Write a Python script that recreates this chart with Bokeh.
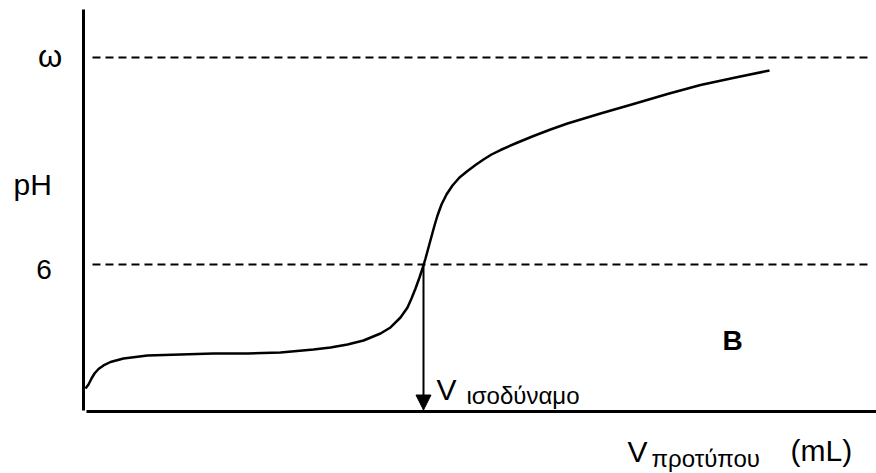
from bokeh.plotting import figure
from bokeh.models import Range1d, Arrow, NormalHead
from bokeh.core.properties import value
from bokeh.embed import file_html
from bokeh.resources import INLINE

# Titration curve data (volume of standard in mL, pH)
vol = [0.147, 0.368, 0.588, 0.809, 1.103, 1.471, 1.985, 2.941, 4.706, 7.132,
       9.559, 12.059, 14.485, 16.912, 18.162, 19.412, 20.588, 21.838, 22.574,
       23.309, 23.824, 24.118, 24.412, 24.706, 24.926, 25.147, 25.368, 25.588,
       25.809, 26.029, 26.324, 26.691, 27.132, 27.647, 28.235, 28.824, 29.412,
       30.0, 30.662, 31.838, 33.088, 34.338, 35.588, 38.015, 40.441, 42.941,
       45.368, 47.941, 50.441]
ph = [0.939, 1.102, 1.347, 1.551, 1.735, 1.878, 2.020, 2.163, 2.286, 2.327,
      2.367, 2.367, 2.408, 2.531, 2.612, 2.735, 2.898, 3.184, 3.429,
      3.837, 4.245, 4.612, 5.020, 5.469, 5.837, 6.245, 6.694, 7.143,
      7.592, 8.000, 8.449, 8.857, 9.224, 9.551, 9.816, 10.061, 10.286,
      10.490, 10.673, 10.959, 11.245, 11.510, 11.755, 12.163, 12.551, 12.959,
      13.327, 13.633, 13.918]

v_eq = 25.0          # equivalence volume
ph_eq = 6.0          # pH at equivalence
ph_omega = 14.45     # level "ω"
ref_levels = [ph_eq, ph_omega]
ref_labels = ["6", "ω"]

p = figure(width=876, height=473, output_backend="svg", toolbar_location=None,
           x_range=Range1d(-6.103, 58.309), y_range=Range1d(-2.531, 16.776),
           min_border=0)
p.axis.visible = False
p.grid.visible = False
p.outline_line_color = None
p.background_fill_color = "white"
p.border_fill_color = "white"

# drawn axes
p.segment(x0=[0.0], y0=[0.04], x1=[0.0], y1=[16.41], line_color="black", line_width=3)
p.segment(x0=[0.22], y0=[0.0], x1=[60.0], y1=[0.0], line_color="black", line_width=3)

# dashed reference levels
p.segment(x0=[0.66] * 2, y0=ref_levels, x1=[57.87] * 2, y1=ref_levels,
          line_color="black", line_width=1.8, line_dash="8 5")

# curve
p.line(vol, ph, line_color="black", line_width=2.5, line_join="round")

# arrow to equivalence volume
p.add_layout(Arrow(end=NormalHead(size=15, fill_color="black", line_color="black"),
                   x_start=v_eq, y_start=ph_eq, x_end=v_eq, y_end=0.06,
                   line_color="black", line_width=2))

font = value("Liberation Sans")
# level labels
p.text(x=[-2.90], y=[5.776], text=[ref_labels[0]], text_font=font,
       text_font_size="28px", text_align="center", text_baseline="alphabetic",
       text_color="black")
p.text(x=[-2.46], y=[14.49], text=[ref_labels[1]], text_font=font,
       text_font_size="31px", text_align="center", text_baseline="alphabetic",
       text_color="black")
p.text(x=[-5.15], y=[9.265], text=["pH"], text_font=font, text_font_size="30px",
       text_align="left", text_baseline="alphabetic", text_color="black")
p.text(x=[47.72], y=[2.878], text=["B"], text_font=font, text_font_size="28px",
       text_font_style="bold", text_align="center", text_baseline="alphabetic",
       text_color="black")

# V equivalence label
p.text(x=[25.96], y=[0.898], text=["V"], text_font=font, text_font_size="30px",
       text_align="left", text_baseline="alphabetic", text_color="black")
p.text(x=[28.16], y=[0.633], text=["ισοδύναμο"], text_font=font, text_font_size="24px",
       text_align="left", text_baseline="alphabetic", text_color="black")

# x label
p.text(x=[40.0], y=[-1.633], text=["V"], text_font=font, text_font_size="30px",
       text_align="left", text_baseline="alphabetic", text_color="black")
p.text(x=[41.76], y=[-1.939], text=["προτύπου"], text_font=font, text_font_size="24px",
       text_align="left", text_baseline="alphabetic", text_color="black")
p.text(x=[51.99], y=[-1.592], text=["(mL)"], text_font=font, text_font_size="30px",
       text_align="left", text_baseline="alphabetic", text_color="black")

open("out.html", "w").write(file_html(p, INLINE))
